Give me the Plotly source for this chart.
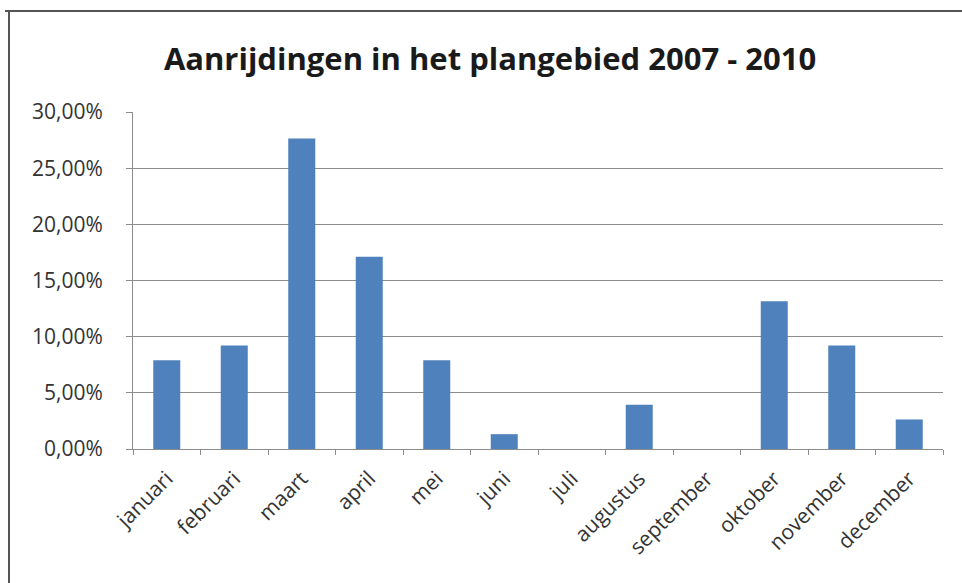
import plotly.graph_objects as go

months = ["januari", "februari", "maart", "april", "mei", "juni", "juli",
          "augustus", "september", "oktober", "november", "december"]
shares = [0.0789, 0.0921, 0.2763, 0.1711, 0.0789, 0.0132, 0.0,
          0.0395, 0.0, 0.1316, 0.0921, 0.0263]
y_ticks = [0, 0.05, 0.10, 0.15, 0.20, 0.25, 0.30]
title_text = "Aanrijdingen in het plangebied 2007 - 2010"

W, H = 962, 583
ml, mr, mt, mb = 133, 19, 112, 134
pw, ph = W - ml - mr, H - mt - mb
FONT = "'Open Sans', Lato, sans-serif"

fig = go.Figure(go.Bar(
    x=months, y=shares,
    marker=dict(color="#4F81BD", line=dict(width=0)),
))

def px2x(px):
    return (px - ml) / pw

def py2y(py):
    return (H - mb - py) / ph

fig.update_layout(
    width=W, height=H,
    margin=dict(l=ml, r=mr, t=mt, b=mb),
    paper_bgcolor="white", plot_bgcolor="white",
    separators=",.",
    bargap=0.6,
    showlegend=False,
    font=dict(family=FONT, color="#262626"),
    title=dict(text="<b>" + title_text + "</b>", x=490 / W, xref="container",
               xanchor="center", y=1 - 59 / H, yref="container", yanchor="middle",
               font=dict(size=31, color="#1a1a1a", family=FONT)),
    xaxis=dict(
        type="category", tickangle=-45, tickfont=dict(size=21, color="#333"),
        showline=True, linecolor="#8c8c8c", linewidth=1,
        ticks="outside", tickson="boundaries", ticklen=5, tickcolor="#8c8c8c",
        ticklabelstandoff=8,
        showgrid=False,
    ),
    yaxis=dict(
        range=[0, 0.30], tickvals=y_ticks, tickformat=".2%",
        tickfont=dict(size=21, color="#333"),
        showgrid=True, gridcolor="#8c8c8c", gridwidth=1,
        showline=True, linecolor="#8c8c8c", linewidth=1,
        ticks="outside", ticklen=6, tickcolor="#8c8c8c",
        ticklabelstandoff=19,
        zeroline=False,
    ),
    shapes=[
        dict(type="line", xref="paper", yref="paper",
             x0=px2x(5), x1=px2x(962), y0=py2y(11), y1=py2y(11),
             line=dict(color="#555", width=2)),
        dict(type="line", xref="paper", yref="paper",
             x0=px2x(9), x1=px2x(9), y0=py2y(11), y1=py2y(583),
             line=dict(color="#555", width=2)),
    ],
)

fig.write_html("out.html")
